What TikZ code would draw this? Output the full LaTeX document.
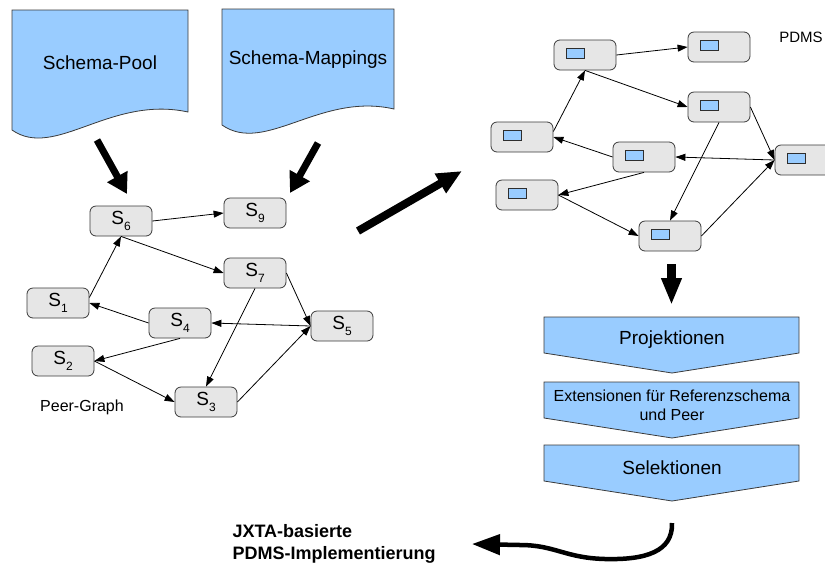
\documentclass[tikz,border=0pt]{standalone}
\usepackage{fontspec}
\setmainfont{Liberation Sans}
\usetikzlibrary{arrows.meta}
\definecolor{pgBlue}{HTML}{99CCFF}
\definecolor{pgGray}{HTML}{E6E6E6}
\definecolor{pgEdge}{HTML}{3A3A3A}
\newcommand{\peerS}[1]{S\raisebox{-6pt}{\fontsize{12}{12}\selectfont #1}}

\begin{document}
\begin{tikzpicture}[
  x=1pt,y=-1pt,
  >={Triangle[length=10pt,width=7pt]},
  doc/.style={draw=pgEdge, fill=pgBlue, line width=.8pt},
  bigtext/.style={font=\fontsize{19}{22}\selectfont},
  midtext/.style={font=\fontsize{16}{19}\selectfont, align=center},
  peer/.style={rounded corners=6pt, draw=pgEdge, fill=pgGray,
               line width=.8pt, minimum width=62pt, minimum height=30pt,
               inner sep=0pt, font=\fontsize{19}{22}\selectfont},
  minirect/.style={draw=pgEdge!80!black, fill=pgBlue, line width=.7pt,
                   minimum width=18pt, minimum height=10pt, inner sep=0pt},
  link/.style={->, line width=.8pt},
  fat/.style={-{Triangle[length=20pt,width=22pt]}, line width=7pt},
  stage/.style={draw=pgEdge, fill=pgBlue, line width=.8pt},
]
  \path[use as bounding box] (0,0) rectangle (825,566);

  % input documents
  \draw[doc] (12,130) -- (12,10) -- (188,10) -- (188,112)
    .. controls (110,95) and (55,160) .. (12,130) -- cycle;
  \node[bigtext] (pool) at (100,63) {Schema-Pool};
  \draw[doc] (222,125) -- (222,9) -- (394,9) -- (394,109)
    .. controls (320,92) and (265,155) .. (222,125) -- cycle;
  \node[bigtext] (mappings) at (308,60) {Schema-Mappings};

  \coordinate (poolout) at (97,140);
  \coordinate (poolin) at (127,194);
  \coordinate (mapout) at (318,143);
  \coordinate (mapin) at (290,193);
  \draw[fat] (poolout) -- (poolin);
  \draw[fat] (mapout) -- (mapin);

  % peer graph
  \foreach \n/\x/\y in {6/121/221, 9/255/213, 7/255/273, 1/58/303,
                        4/180/323, 5/342/326, 2/63/361, 3/206/402} {
    \node[peer] (s\n) at (\x,\y) {\peerS{\n}};
  }
  \foreach \a/\b in {6.east/9.west, 6.south/7.west, 1.10/6.south,
                     4.west/1.east, 5.west/4.east, 4.south/2.east,
                     2.east/3.west, 7.east/5.west, 7.south/3.north,
                     3.east/5.west} {
    \draw[link] (s\a) -- (s\b);
  }
  \node[font=\fontsize{16}{19}\selectfont] (peergraph) at (82,407) {Peer-Graph};

  \coordinate (mapstart) at (358,231);
  \coordinate (mapend) at (462,171);
  \draw[-{Triangle[length=25pt,width=21pt]}, line width=8pt] (mapstart) -- (mapend);

  % PDMS graph, same layout shifted
  \foreach \n/\x/\y in {6/121/221, 9/255/213, 7/255/273, 1/58/303,
                        4/180/323, 5/342/326, 2/63/361, 3/206/402} {
    \node[peer] (p\n) at (\x+464,\y-166) {};
    \node[minirect] (r\n) at ([shift={(-10,-2)}]p\n.center) {};
  }
  \foreach \a/\b in {6.east/9.west, 6.south/7.west, 1.10/6.south,
                     4.west/1.east, 5.west/4.east, 4.south/2.east,
                     2.east/3.west, 7.east/5.west, 7.south/3.north,
                     3.east/5.west} {
    \draw[link] (p\a) -- (p\b);
  }
  \node[font=\fontsize{15}{18}\selectfont] (pdms) at (801,37) {PDMS};

  \coordinate (downstart) at (671.5,264);
  \coordinate (downend) at (671.5,305);
  \draw[-{Triangle[length=27pt,width=19pt]}, line width=9pt] (downstart) -- (downend);

  % processing stages
  \foreach \t/\txt/\sty in {317/Projektionen/bigtext,
      382/{Extensionen für Referenzschema\\und Peer}/midtext,
      445/Selektionen/bigtext} {
    \draw[stage] (544,\t) -- (799,\t) -- (799,\t+36) -- (672,\t+56)
      -- (544,\t+36) -- cycle;
    \node[\sty] (stage\t) at (672,\t+23) {\txt};
  }

  % result
  \node[font=\bfseries\fontsize{18}{22}\selectfont, align=left, anchor=west]
    (jxta) at (229,544) {JXTA-basierte\\PDMS-Implementierung};
  \coordinate (curvestart) at (672,523);
  \coordinate (curveend) at (472,544);
  \draw[-{Triangle[length=28pt,width=20pt]}, line width=4.5pt]
    (curvestart) .. controls (673,552) and (645,560) .. (605,559)
    .. controls (565,558) and (555,545) .. (520,545) -- (curveend);
\end{tikzpicture}
\end{document}
